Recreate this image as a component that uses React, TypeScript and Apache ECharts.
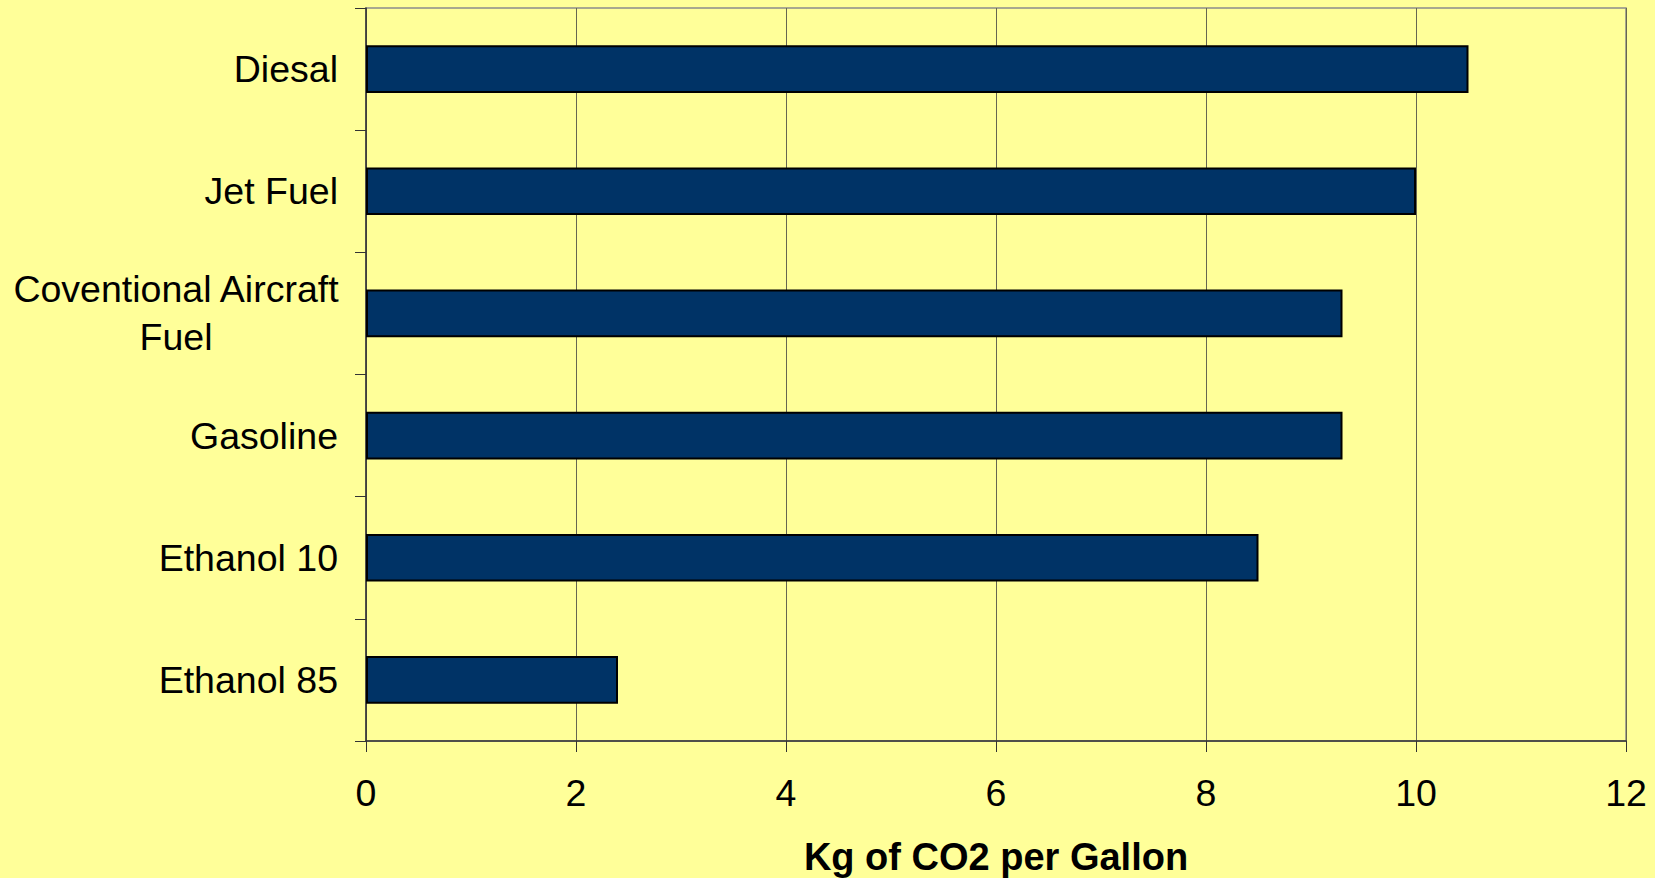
import React, { useEffect, useRef } from "react";
import * as echarts from "echarts";

const categories = [
  "Diesal",
  "Jet Fuel",
  "Coventional Aircraft Fuel",
  "Gasoline",
  "Ethanol 10",
  "Ethanol 85",
];
const values = [10.5, 10.0, 9.3, 9.3, 8.5, 2.4];
const xAxisName = "Kg of CO2 per Gallon";
const xMin = 0;
const xMax = 12;
const xInterval = 2;

const FONT = "Arial, 'Liberation Sans', sans-serif";

export default function App() {
  const ref = useRef<HTMLDivElement>(null);

  useEffect(() => {
    if (!ref.current) return;
    const chart = echarts.init(ref.current, undefined, { renderer: "svg" });
    chart.setOption({
      animation: false,
      backgroundColor: "#FFFF99",
      textStyle: { fontFamily: FONT },
      grid: {
        left: 366,
        right: 29,
        top: 8,
        bottom: 137,
        containLabel: false,
        outerBoundsMode: "none",
        show: true,
        borderColor: "#8c8c8c",
        borderWidth: 1.5,
        backgroundColor: "transparent",
      },
      xAxis: {
        type: "value",
        min: xMin,
        max: xMax,
        interval: xInterval,
        name: xAxisName,
        nameLocation: "middle",
        nameGap: 97,
        nameTextStyle: {
          fontFamily: FONT,
          fontSize: 38,
          lineHeight: 38,
          fontWeight: "bold",
          color: "#000",
        },
        axisLine: { show: true, lineStyle: { color: "#333", width: 1.5 } },
        axisTick: { show: true, length: 11, lineStyle: { color: "#333", width: 1 } },
        axisLabel: {
          fontFamily: FONT,
          fontSize: 37.5,
          color: "#000",
          margin: 33,
        },
        splitLine: { show: true, lineStyle: { color: "#666650", width: 1 } },
      },
      yAxis: {
        type: "category",
        data: categories,
        inverse: true,
        axisLine: { show: true, lineStyle: { color: "#333", width: 1.5 } },
        axisTick: { show: true, length: 11, alignWithLabel: false, lineStyle: { color: "#333", width: 1 } },
        splitLine: { show: false },
        axisLabel: {
          fontFamily: FONT,
          fontSize: 37.5,
          color: "#000",
          margin: 28,
          formatter: (v: string) =>
            v === "Coventional Aircraft Fuel"
              ? "{c|Coventional Aircraft}\n{c|Fuel}"
              : v,
          rich: {
            c: {
              fontFamily: FONT,
              fontSize: 37.5,
              color: "#000",
              width: 324,
              align: "center",
              lineHeight: 48,
            },
          },
        },
      },
      series: [
        {
          type: "bar",
          data: values,
          barWidth: "39%",
          itemStyle: {
            color: "#003366",
            borderColor: "#000",
            borderWidth: 2,
          },
        },
      ],
    });
    return () => chart.dispose();
  }, []);

  return (
    <div
      ref={ref}
      style={{ position: "fixed", left: 0, top: 0, width: 1655, height: 878 }}
    />
  );
}
